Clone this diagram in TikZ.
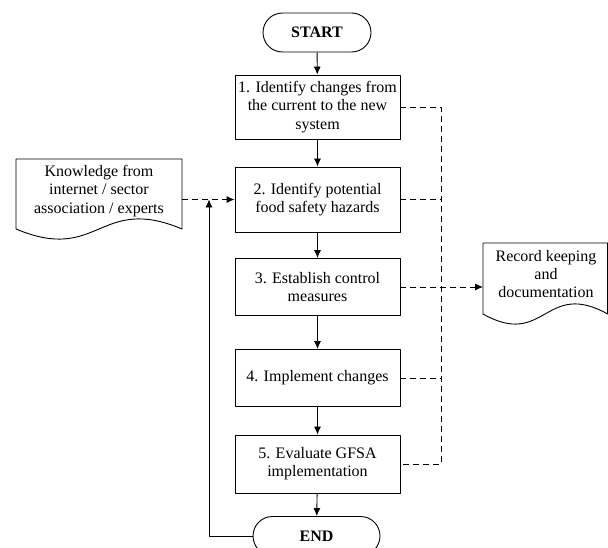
\documentclass[tikz,border=0pt]{standalone}
\usepackage{fontspec}
\setmainfont{Liberation Serif}
\usetikzlibrary{arrows.meta}
\usetikzlibrary{calc}
\tikzset{b/.style={draw,line width=.9pt,align=center,minimum width=165pt,minimum height=57pt,inner sep=2pt,font=\fontsize{16}{18.3}\selectfont}}
\tikzset{t/.style={draw,line width=.9pt,rounded corners=19.5pt,minimum height=39pt,font=\fontsize{16}{18.3}\selectfont\bfseries}}
\tikzset{txt/.style={align=center,inner sep=0pt,font=\fontsize{16}{18.3}\selectfont}}
\tikzset{d/.style={line width=.9pt,dash pattern=on 6pt off 4pt}}

\begin{document}
\begin{tikzpicture}[x=1pt,y=-1pt,line join=round,>={Latex[length=8pt,width=7pt]}]
  \useasboundingbox (0,0) rectangle (608,548);
  \node[t,minimum width=108pt] (start) at (317,32.5) {START};
  \node[b,minimum height=64pt] (s1) at (317.5,107) {1. Identify changes from\\the current to the new\\system};
  \node[b,minimum height=65pt] (s2) at (317.5,199.5) {2. Identify potential\\food safety hazards};
  \node[b] (s3) at (317.5,287) {3. Establish control\\measures};
  \node[b] (s4) at (317.5,378) {4. Implement changes};
  \node[b,minimum height=58pt] (s5) at (317.5,464) {5. Evaluate GFSA\\implementation};
  \node[t,minimum width=127pt] (end) at (316.5,536) {END};
  \draw[line width=.9pt,->] (start) -- (s1);
  \draw[line width=.9pt,->] (s1) -- (s2);
  \draw[line width=.9pt,->] (s2) -- (s3);
  \draw[line width=.9pt,->] (s3) -- (s4);
  \draw[line width=.9pt,->] (s4) -- (s5);
  \draw[line width=.9pt,->] (s5) -- (end);

  \draw[line width=.9pt] (16,229) -- (16,159) -- (182,159) -- (182,229) .. controls (99,194) and (99,264) .. cycle;
  \node[txt] (know) at (99,191) {Knowledge from\\internet / sector\\association / experts};
  \coordinate (kr) at (182,199.5);
  \draw[line width=.9pt] (483,314) -- (483,243) -- (607.6,243) -- (607.6,314) .. controls (545,279) and (545,349) .. cycle;
  \node[txt] (rec) at (546,274) {Record keeping\\and\\documentation};
  \coordinate (rw) at (483,287);

  \coordinate (c1) at (441,107);
  \draw[d] (s1.east) -- (c1) -- (s5.east -| c1) -- (s5.east);
  \draw[d] (s2.east) -- (s2.east -| c1);
  \draw[d] (s4.east) -- (s4.east -| c1);
  \draw[d,->] (s3.east) -- (rw);
  \draw[d,->] (kr) -- (s2.west);

  \coordinate (fb) at (209,199.5);
  \draw[line width=.9pt,->] (end.west) -| (fb);
\end{tikzpicture}
\end{document}
